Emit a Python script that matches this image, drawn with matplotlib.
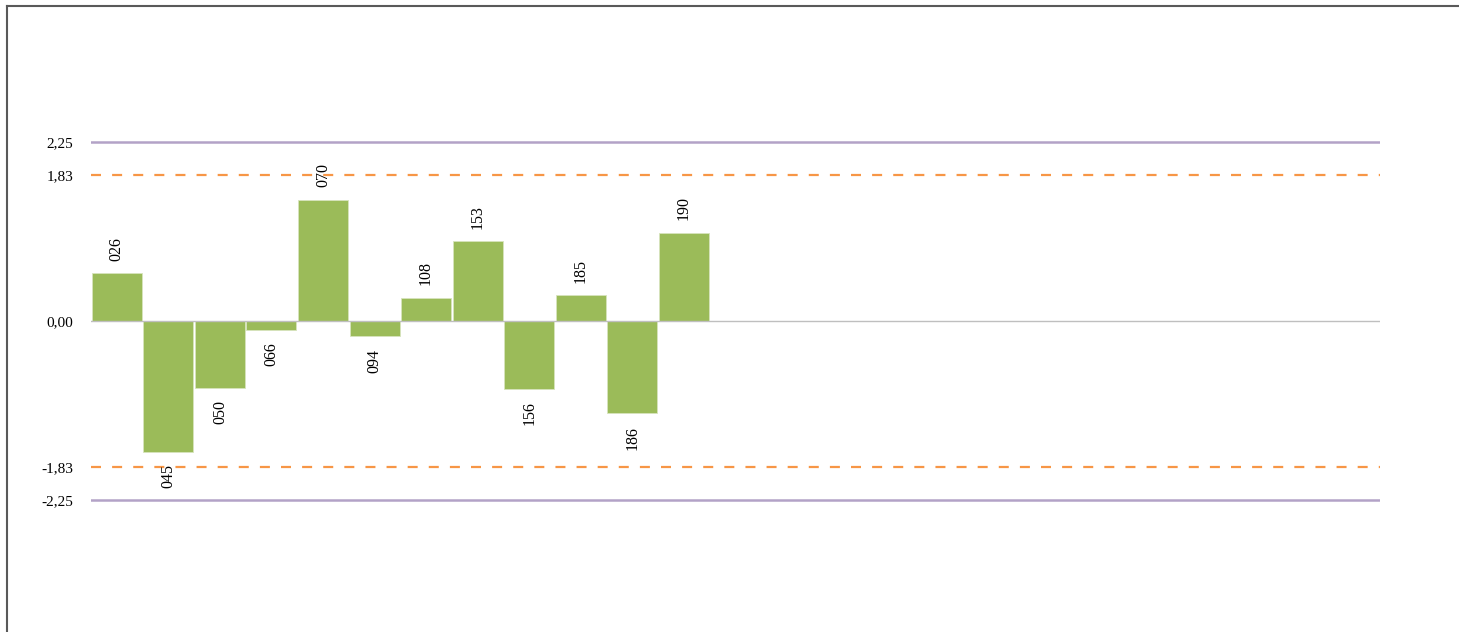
import numpy as np
import matplotlib.pyplot as plt
from matplotlib.lines import Line2D

plt.rcParams['font.family'] = ['Liberation Serif', 'DejaVu Serif']

# bar labels and values
labels = ['026', '045', '050', '066', '070', '094', '108', '153', '156', '185', '186', '190']
values = [0.60, -1.64, -0.84, -0.11, 1.525, -0.19, 0.29, 1.00, -0.85, 0.325, -1.16, 1.11]
n_slots = 25

ucl = 2.25
warn = 1.83
yticks = [-2.25, -1.83, 0.0, 1.83, 2.25]
yticklabels = ['-2,25', '-1,83', '0,00', '1,83', '2,25']

fig = plt.figure(figsize=(14.59, 6.32), dpi=100)
ax = fig.add_axes([91 / 1459, 104 / 632, 1289 / 1459, 414 / 632])

x = np.arange(len(values))
ax.bar(x, values, width=0.97, color='#9BBB59', edgecolor='#D7E4BD', linewidth=0.6, zorder=2)

ax.set_xlim(-0.5, n_slots - 0.5)
ax.set_ylim(-2.6, 2.6)

ax.axhline(0, color='#BFBFBF', linewidth=1.0, zorder=3)
ax.axhline(ucl, color='#B3A2C7', linewidth=1.8, zorder=1)
ax.axhline(-ucl, color='#B3A2C7', linewidth=1.8, zorder=1)
ax.axhline(warn, color='#F79646', linewidth=1.6, linestyle=(0, (4.5, 5)), zorder=1)
ax.axhline(-warn, color='#F79646', linewidth=1.6, linestyle=(0, (4.5, 5)), zorder=1)

for xi, v, lab in zip(x, values, labels):
    if v >= 0:
        ax.annotate(lab, (xi, v), xytext=(0, 9), textcoords='offset points',
                    rotation=90, ha='center', va='bottom', fontsize=11.5)
    else:
        ax.annotate(lab, (xi, v), xytext=(0, -9), textcoords='offset points',
                    rotation=90, ha='center', va='top', fontsize=11.5)

ax.set_yticks(yticks)
ax.set_yticklabels(yticklabels, fontsize=11)
ax.tick_params(axis='y', length=0, pad=13)
ax.set_xticks([])
for s in ax.spines.values():
    s.set_visible(False)

# outer frame (left and top edges only visible)
fig.add_artist(Line2D([6.5 / 1459, 6.5 / 1459], [0, 1 - 6 / 632], color='#595959', linewidth=1.5))
fig.add_artist(Line2D([6.5 / 1459, 1], [1 - 6 / 632, 1 - 6 / 632], color='#595959', linewidth=1.5))

fig.savefig('out.png', dpi=100)
